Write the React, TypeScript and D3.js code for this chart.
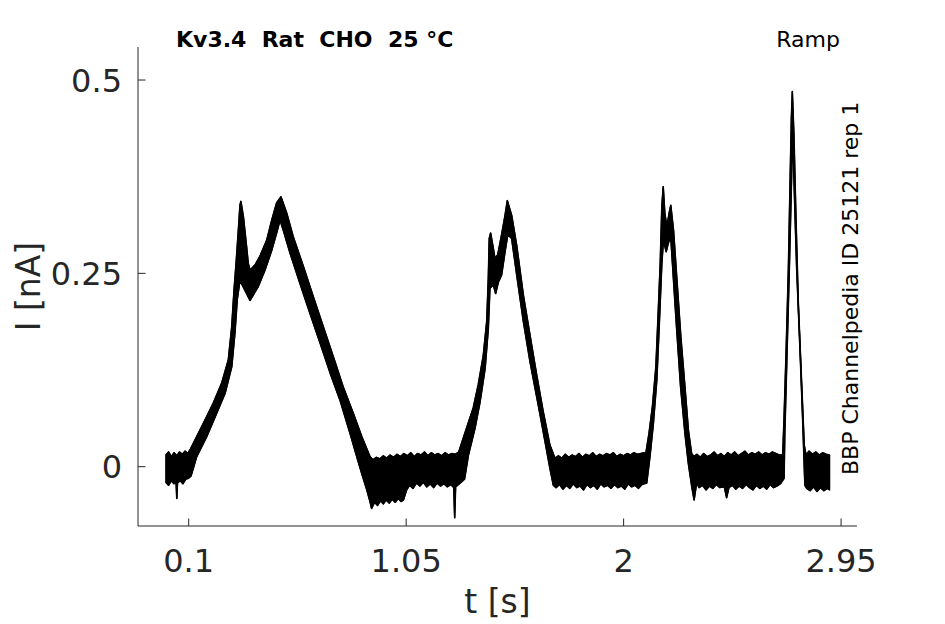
import React from "react";
import * as d3 from "d3";

// Upper edge of the overlaid current sweeps: time (s), current (nA)
const upperT = [
  0.000, 0.012, 0.024, 0.036, 0.048, 0.060, 0.072, 0.084, 0.096, 0.108,
  0.120, 0.164, 0.207, 0.244, 0.273, 0.288, 0.298, 0.307, 0.317, 0.324, 0.328,
  0.339, 0.353, 0.360, 0.368, 0.390, 0.411, 0.441, 0.463, 0.484, 0.503,
  0.528, 0.557, 0.601, 0.644, 0.688, 0.732, 0.775, 0.819, 0.856, 0.892,
  0.905, 0.920, 0.935, 0.950, 0.965, 0.980, 0.995, 1.010, 1.025, 1.040, 1.055, 1.070, 1.085,
  1.100, 1.115, 1.130, 1.145, 1.160, 1.175, 1.190, 1.205, 1.220, 1.235, 1.250, 1.265, 1.280,
  1.285, 1.314, 1.343, 1.365, 1.387, 1.402, 1.409, 1.413, 1.419, 1.431, 1.438, 1.450, 1.467,
  1.482, 1.492, 1.511, 1.533, 1.562, 1.591, 1.620, 1.649, 1.678, 1.700,
  1.715, 1.730, 1.745, 1.760, 1.775, 1.790, 1.805, 1.820, 1.835, 1.850, 1.865, 1.880, 1.895,
  1.910, 1.925, 1.940, 1.955, 1.970, 1.985, 2.000, 2.015, 2.030, 2.045, 2.060, 2.075, 2.090,
  2.097, 2.111, 2.126, 2.141, 2.151, 2.160, 2.167, 2.173, 2.180, 2.189, 2.199, 2.206,
  2.218, 2.233, 2.250, 2.268, 2.283, 2.297, 2.307,
  2.320, 2.335, 2.350, 2.365, 2.380, 2.395, 2.410, 2.425, 2.440, 2.455, 2.470, 2.485, 2.500,
  2.515, 2.530, 2.545, 2.560, 2.575, 2.590, 2.605, 2.620, 2.635, 2.650, 2.665, 2.680,
  2.695, 2.701, 2.710, 2.720, 2.727, 2.733, 2.737, 2.744, 2.753, 2.763, 2.778, 2.789, 2.797,
  2.810, 2.825, 2.840, 2.855, 2.870, 2.885, 2.900,
];
const upperI = [
  0.015, 0.019, 0.013, 0.018, 0.014, 0.019, 0.016, 0.020, 0.017, 0.023,
  0.030, 0.056, 0.082, 0.108, 0.138, 0.181, 0.228, 0.263, 0.306, 0.338, 0.343,
  0.323, 0.284, 0.263, 0.254, 0.261, 0.272, 0.293, 0.319, 0.341, 0.349,
  0.328, 0.297, 0.259, 0.220, 0.181, 0.142, 0.103, 0.069, 0.039, 0.013,
  0.009, 0.012, 0.010, 0.014, 0.011, 0.015, 0.012, 0.016, 0.013, 0.017, 0.014, 0.018, 0.013,
  0.017, 0.015, 0.019, 0.014, 0.018, 0.015, 0.017, 0.014, 0.018, 0.015, 0.017, 0.016, 0.019,
  0.024, 0.050, 0.076, 0.106, 0.144, 0.188, 0.244, 0.295, 0.302, 0.282, 0.269, 0.274, 0.300,
  0.325, 0.344, 0.325, 0.286, 0.222, 0.170, 0.119, 0.071, 0.028, 0.011,
  0.014, 0.011, 0.016, 0.012, 0.015, 0.013, 0.017, 0.012, 0.016, 0.014, 0.018, 0.013, 0.016,
  0.014, 0.017, 0.015, 0.018, 0.013, 0.016, 0.014, 0.017, 0.015, 0.018, 0.016, 0.017, 0.018,
  0.017, 0.043, 0.078, 0.129, 0.198, 0.263, 0.336, 0.362, 0.328, 0.310, 0.328, 0.338,
  0.306, 0.241, 0.168, 0.103, 0.047, 0.017, 0.013,
  0.016, 0.012, 0.017, 0.013, 0.015, 0.019, 0.014, 0.017, 0.013, 0.018, 0.015, 0.019, 0.014,
  0.017, 0.020, 0.015, 0.018, 0.016, 0.019, 0.015, 0.018, 0.016, 0.019, 0.017, 0.015,
  0.015, 0.063, 0.149, 0.257, 0.364, 0.451, 0.485, 0.429, 0.321, 0.213, 0.106, 0.028, 0.015,
  0.020, 0.016, 0.019, 0.015, 0.018, 0.016, 0.015,
];

// Lower edge of the overlaid current sweeps: time (s), current (nA)
const lowerT = [
  0.000, 0.012, 0.024, 0.036, 0.045, 0.048, 0.051, 0.063, 0.075, 0.087, 0.099, 0.110,
  0.135, 0.179, 0.222, 0.259, 0.288, 0.302, 0.312, 0.324, 0.346, 0.368, 0.382, 0.404,
  0.433, 0.463, 0.484, 0.499, 0.513, 0.543, 0.586, 0.630, 0.674, 0.718, 0.761, 0.805,
  0.834, 0.856, 0.878, 0.892,
  0.899, 0.912, 0.925, 0.938, 0.950, 0.963, 0.976, 0.989, 1.002, 1.015, 1.028, 1.038,
  1.052, 1.065, 1.080, 1.095, 1.110, 1.125, 1.140, 1.155, 1.170, 1.185, 1.200, 1.215,
  1.230, 1.245, 1.258, 1.262, 1.266, 1.290, 1.305,
  1.322, 1.351, 1.373, 1.395, 1.409, 1.416, 1.431, 1.441, 1.453, 1.467, 1.482, 1.494,
  1.511, 1.533, 1.562, 1.591, 1.627, 1.657, 1.678, 1.693,
  1.705, 1.720, 1.735, 1.750, 1.765, 1.780, 1.795, 1.810, 1.825, 1.840, 1.855, 1.870,
  1.885, 1.900, 1.915, 1.930, 1.945, 1.960, 1.975, 1.990, 2.005, 2.020, 2.035, 2.050,
  2.065, 2.080, 2.101,
  2.115, 2.130, 2.145, 2.156, 2.167, 2.174, 2.186, 2.195, 2.206, 2.217, 2.232, 2.249,
  2.268, 2.283, 2.298, 2.308, 2.319,
  2.330, 2.345, 2.360, 2.375, 2.390, 2.405, 2.420, 2.440, 2.450, 2.460, 2.475, 2.490,
  2.505, 2.520, 2.535, 2.550, 2.565, 2.580, 2.595, 2.610, 2.625, 2.640, 2.655, 2.670, 2.685,
  2.701, 2.704, 2.712, 2.724, 2.733, 2.739, 2.745, 2.756, 2.771, 2.782, 2.792,
  2.800, 2.815, 2.830, 2.845, 2.860, 2.875, 2.890, 2.900,
];
const lowerI = [
  -0.020, -0.024, -0.018, -0.022, -0.020, -0.041, -0.021, -0.018, -0.022, -0.016, -0.015, -0.012,
  0.013, 0.039, 0.069, 0.095, 0.129, 0.173, 0.216, 0.241, 0.228, 0.215, 0.222, 0.233,
  0.254, 0.280, 0.302, 0.319, 0.306, 0.276, 0.237, 0.198, 0.160, 0.121, 0.086, 0.043,
  0.013, -0.009, -0.030, -0.045,
  -0.054, -0.046, -0.050, -0.044, -0.048, -0.043, -0.047, -0.042, -0.046, -0.041, -0.045, -0.043,
  -0.030, -0.024, -0.028, -0.021, -0.025, -0.020, -0.026, -0.022, -0.027, -0.021, -0.025, -0.022,
  -0.026, -0.023, -0.027, -0.066, -0.026, -0.020, -0.016,
  0.015, 0.050, 0.084, 0.127, 0.179, 0.231, 0.235, 0.224, 0.239, 0.248, 0.278, 0.300,
  0.295, 0.248, 0.188, 0.136, 0.080, 0.032, -0.002, -0.024,
  -0.027, -0.023, -0.029, -0.024, -0.028, -0.022, -0.027, -0.025, -0.030, -0.023, -0.027, -0.024,
  -0.029, -0.022, -0.026, -0.024, -0.028, -0.023, -0.027, -0.025, -0.029, -0.022, -0.026, -0.024,
  -0.028, -0.023, -0.021,
  0.013, 0.056, 0.112, 0.185, 0.263, 0.293, 0.278, 0.289, 0.297, 0.246, 0.177, 0.103,
  0.043, 0.004, -0.026, -0.043, -0.021,
  -0.027, -0.024, -0.030, -0.025, -0.028, -0.023, -0.027, -0.026, -0.040, -0.027, -0.024, -0.029,
  -0.025, -0.028, -0.023, -0.027, -0.030, -0.024, -0.028, -0.025, -0.029, -0.023, -0.027, -0.025, -0.022,
  -0.015, 0.041, 0.127, 0.257, 0.364, 0.442, 0.364, 0.257, 0.149, 0.063, -0.024,
  -0.028, -0.031, -0.026, -0.032, -0.027, -0.031, -0.028, -0.030,
];

const xTicks = [0.1, 1.05, 2, 2.95];
const xTickLabels = ["0.1", "1.05", "2", "2.95"];
const yTicks = [0, 0.25, 0.5];
const yTickLabels = ["0", "0.25", "0.5"];

const titleText = "Kv3.4  Rat  CHO  25 °C";
const protocolText = "Ramp";
const sideText = "BBP Channelpedia ID 25121 rep 1";
const xLabel = "t [s]";
const yLabel = "I [nA]";

const W = 945;
const H = 624;
const axisColor = "#262626";
const font = "'DejaVu Sans', sans-serif";

export default function App() {
  const left = 138;
  const right = 857;
  const top = 47;
  const bottom = 526;
  const x = d3.scaleLinear().domain([-0.1215, 3.0196]).range([left, right]);
  const y = d3.scaleLinear().domain([-0.0767, 0.5427]).range([bottom, top]);

  const upper = upperT.map((t, i) => [t, upperI[i]] as [number, number]);
  const lower = lowerT.map((t, i) => [t, lowerI[i]] as [number, number]);
  const poly = upper.concat(lower.slice().reverse());
  const line = d3
    .line<[number, number]>()
    .x((d) => x(d[0]))
    .y((d) => y(d[1]));
  const bandPath = line(poly) + "Z";
  const tickLen = 7.5;

  return (
    <svg
      width={W}
      height={H}
      style={{ position: "absolute", left: 0, top: 0, background: "#fff" }}
      fontFamily={font}
    >
      <rect x={0} y={0} width={W} height={H} fill="#fff" />
      <path
        d={bandPath}
        fill="#000"
        stroke="#000"
        strokeWidth={1.3}
        strokeLinejoin="round"
      />
      <path d={line(upper) || ""} fill="none" stroke="#000" strokeWidth={1.6} strokeLinejoin="round" />
      <path d={line(lower) || ""} fill="none" stroke="#000" strokeWidth={1.6} strokeLinejoin="round" />

      {/* axes */}
      <line x1={left} x2={left} y1={top} y2={bottom} stroke={axisColor} strokeWidth={1} />
      <line x1={left} x2={right} y1={bottom} y2={bottom} stroke={axisColor} strokeWidth={1} />
      {xTicks.map((t, i) => (
        <g key={"xt" + i}>
          <line x1={x(t)} x2={x(t)} y1={bottom} y2={bottom - tickLen} stroke={axisColor} strokeWidth={1} />
          <text x={x(t)} y={572} textAnchor="middle" fontSize={32} fill={axisColor}>
            {xTickLabels[i]}
          </text>
        </g>
      ))}
      {yTicks.map((v, i) => (
        <g key={"yt" + i}>
          <line x1={left} x2={left + tickLen} y1={y(v)} y2={y(v)} stroke={axisColor} strokeWidth={1} />
          <text x={122} y={y(v)} dy="0.36em" textAnchor="end" fontSize={32} fill={axisColor}>
            {yTickLabels[i]}
          </text>
        </g>
      ))}
      <text x={(left + right) / 2} y={613} textAnchor="middle" fontSize={33} fill={axisColor}>
        {xLabel}
      </text>
      <text
        transform={`translate(40, ${(top + bottom) / 2}) rotate(-90)`}
        textAnchor="middle"
        fontSize={33}
        fill={axisColor}
      >
        {yLabel}
      </text>

      <text x={176} y={47} fontSize={22} fontWeight="bold" fill="#000" style={{ whiteSpace: "pre" }}>
        {titleText}
      </text>
      <text x={840} y={47} textAnchor="end" fontSize={22} fill="#000">
        {protocolText}
      </text>
      <text
        transform={`translate(858, 475) rotate(-90)`}
        textAnchor="start"
        fontSize={22}
        fill="#000"
      >
        {sideText}
      </text>
    </svg>
  );
}
